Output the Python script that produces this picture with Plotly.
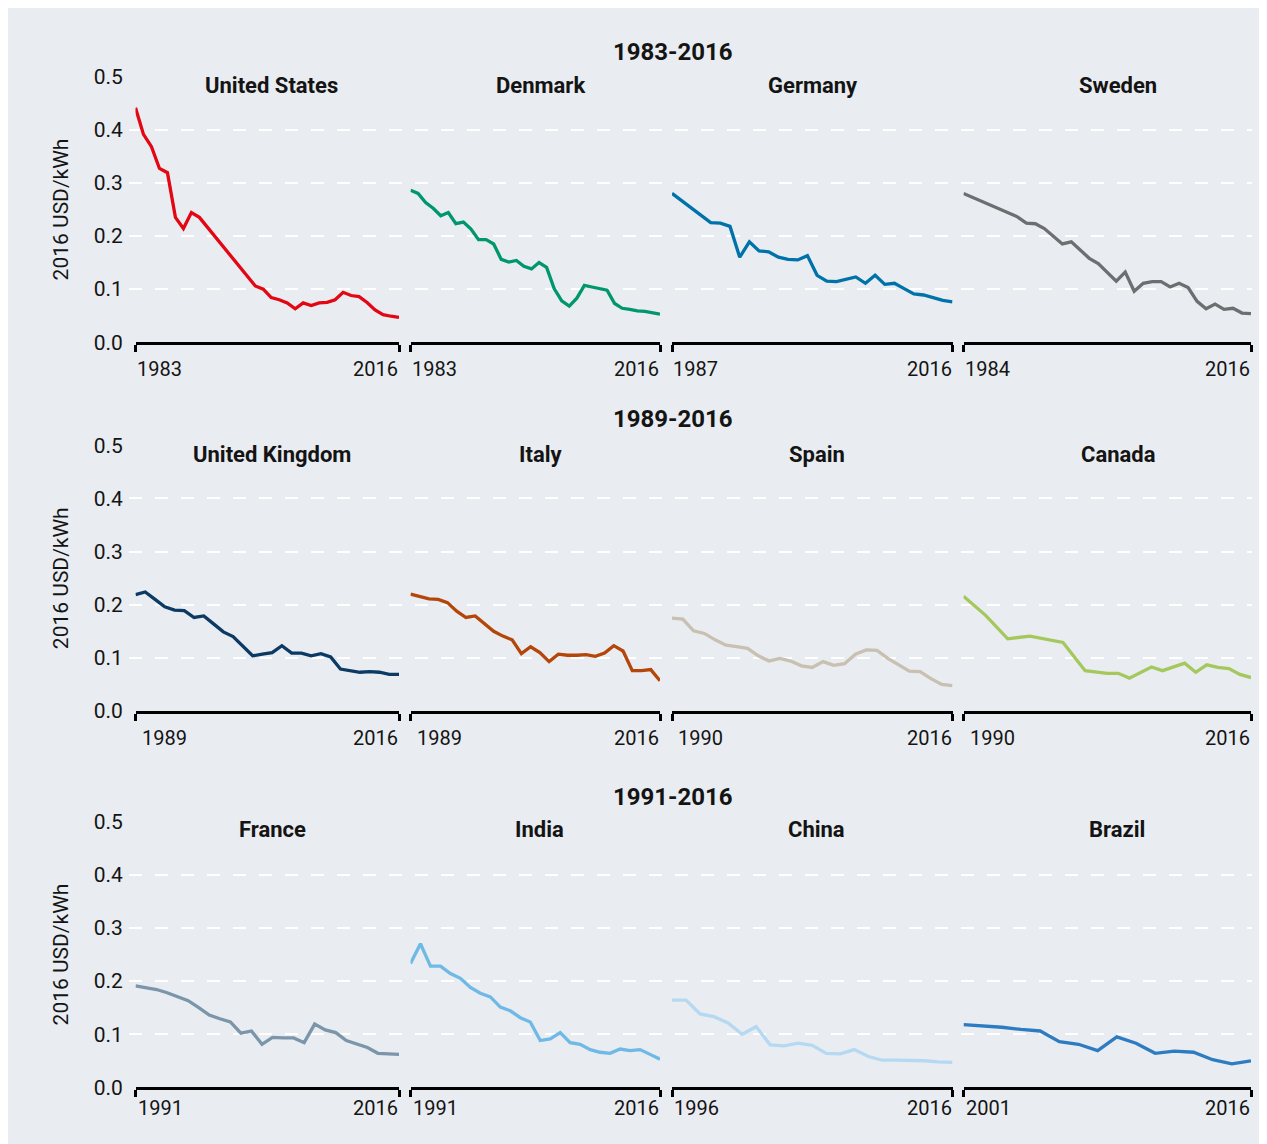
import plotly.graph_objects as go

# ---------------- data ----------------
row_titles = ["1983-2016", "1989-2016", "1991-2016"]
panel_titles = [
    ["United States", "Denmark", "Germany", "Sweden"],
    ["United Kingdom", "Italy", "Spain", "Canada"],
    ["France", "India", "China", "Brazil"],
]
y_ticks = [0.0, 0.1, 0.2, 0.3, 0.4, 0.5]
y_ticktext = ["0.0", "0.1", "0.2", "0.3", "0.4", "0.5"]
y_title = "2016 USD/kWh"

us_years = [1983, 1984, 1985, 1986, 1987, 1988, 1989, 1990, 1991, 1998, 1999, 2000,
            2001, 2002, 2003, 2004, 2005, 2006, 2007, 2008, 2009, 2010, 2011, 2012,
            2013, 2014, 2015, 2016]
us_vals = [0.441, 0.391, 0.368, 0.327, 0.319, 0.235, 0.214, 0.244, 0.235, 0.106, 0.100, 0.084,
           0.080, 0.074, 0.063, 0.074, 0.069, 0.074, 0.075, 0.080, 0.094, 0.088, 0.086, 0.075,
           0.061, 0.052, 0.049, 0.047]

dk_years = list(range(1983, 2017))
dk_vals = [0.286, 0.280, 0.263, 0.252, 0.238, 0.244, 0.223, 0.226, 0.213, 0.193, 0.193, 0.185,
           0.156, 0.151, 0.154, 0.143, 0.138, 0.150, 0.141, 0.101, 0.078, 0.068, 0.083, 0.107,
           0.104, 0.101, 0.098, 0.073, 0.064, 0.062, 0.059, 0.058, 0.056, 0.053]

de_years = [1987, 1991, 1992, 1993, 1994, 1995, 1996, 1997, 1998, 1999, 2000, 2001, 2002,
            2003, 2004, 2005, 2006, 2007, 2008, 2009, 2010, 2011, 2012, 2013, 2014, 2015, 2016]
de_vals = [0.280, 0.225, 0.224, 0.218, 0.160, 0.189, 0.172, 0.170, 0.160, 0.156, 0.155, 0.163,
           0.126, 0.115, 0.114, 0.119, 0.123, 0.111, 0.126, 0.109, 0.111, 0.101, 0.091, 0.089,
           0.084, 0.079, 0.076]

se_years = [1984, 1990, 1991, 1992, 1993, 1994, 1995, 1996, 1997, 1998, 1999, 2000, 2001,
            2002, 2003, 2004, 2005, 2006, 2007, 2008, 2009, 2010, 2011, 2012, 2013, 2014,
            2015, 2016]
se_vals = [0.280, 0.236, 0.224, 0.223, 0.214, 0.199, 0.185, 0.189, 0.173, 0.158, 0.148, 0.132,
           0.115, 0.132, 0.096, 0.111, 0.114, 0.114, 0.104, 0.111, 0.103, 0.077, 0.063, 0.072,
           0.062, 0.064, 0.055, 0.054]

uk_years = list(range(1989, 2017))
uk_vals = [0.219, 0.224, 0.210, 0.196, 0.190, 0.189, 0.176, 0.179, 0.164, 0.149, 0.140, 0.121,
           0.104, 0.107, 0.110, 0.123, 0.109, 0.109, 0.104, 0.108, 0.102, 0.079, 0.076, 0.073,
           0.074, 0.073, 0.069, 0.069]

it_years = list(range(1989, 2017))
it_vals = [0.220, 0.216, 0.211, 0.210, 0.204, 0.188, 0.176, 0.179, 0.165, 0.150, 0.141, 0.134,
           0.108, 0.121, 0.110, 0.093, 0.107, 0.105, 0.105, 0.106, 0.103, 0.109, 0.123, 0.113,
           0.076, 0.076, 0.078, 0.057]

es_years = list(range(1990, 2017))
es_vals = [0.175, 0.173, 0.151, 0.146, 0.134, 0.124, 0.121, 0.118, 0.104, 0.094, 0.099, 0.094,
           0.085, 0.082, 0.093, 0.086, 0.089, 0.107, 0.115, 0.114, 0.099, 0.087, 0.075, 0.074,
           0.061, 0.050, 0.048]

ca_years = [1990, 1992, 1994, 1996, 1999, 2001, 2003, 2004, 2005, 2007, 2008, 2010, 2011,
            2012, 2013, 2014, 2015, 2016]
ca_vals = [0.216, 0.180, 0.136, 0.141, 0.129, 0.076, 0.071, 0.071, 0.062, 0.083, 0.076, 0.090,
           0.073, 0.087, 0.082, 0.080, 0.069, 0.063]

fr_years = list(range(1991, 2017))
fr_vals = [0.191, 0.188, 0.184, 0.178, 0.171, 0.163, 0.150, 0.136, 0.129, 0.123, 0.102, 0.106,
           0.081, 0.094, 0.093, 0.093, 0.084, 0.119, 0.108, 0.103, 0.088, 0.081, 0.075, 0.064,
           0.063, 0.062]

in_years = list(range(1991, 2017))
in_vals = [0.233, 0.270, 0.228, 0.228, 0.214, 0.205, 0.188, 0.177, 0.170, 0.151, 0.144, 0.131,
           0.123, 0.088, 0.091, 0.103, 0.084, 0.081, 0.071, 0.066, 0.064, 0.072, 0.069, 0.071,
           0.062, 0.053]

cn_years = list(range(1996, 2017))
cn_vals = [0.164, 0.164, 0.138, 0.133, 0.121, 0.100, 0.114, 0.080, 0.078, 0.083, 0.079, 0.064,
           0.063, 0.071, 0.058, 0.051, 0.051, 0.051, 0.050, 0.048, 0.047]

br_years = list(range(2001, 2017))
br_vals = [0.118, 0.116, 0.113, 0.109, 0.106, 0.086, 0.081, 0.069, 0.095, 0.083, 0.064, 0.068,
           0.066, 0.052, 0.044, 0.050]

series_years = [[us_years, dk_years, de_years, se_years],
                [uk_years, it_years, es_years, ca_years],
                [fr_years, in_years, cn_years, br_years]]
series_vals = [[us_vals, dk_vals, de_vals, se_vals],
               [uk_vals, it_vals, es_vals, ca_vals],
               [fr_vals, in_vals, cn_vals, br_vals]]
colors = [["#e30613", "#00966e", "#0072aa", "#6d6e70"],
          ["#0c3a63", "#b4460a", "#c8c0b1", "#a4c85c"],
          ["#7b95aa", "#6fb9e6", "#b5d9f2", "#2d7cc1"]]

# ---------------- geometry (target picture pixels) ----------------
# calibration of where the page puts the figure in the picture
OX = 8            # horizontal offset of the figure
TY, SY = 19.5, 0.9797   # vertical offset and scale of the figure in the picture
W, H = 1259, 1148


def fx(px):
    return (px - OX) / W


def fy(py):
    return 1 - ((py - TY) / SY) / H


BG = "#e9ecf1"
TXT = "#141414"
FONT = "Roboto"

ROW_Y = [(76, 342), (445, 711), (821.5, 1087.5)]          # (top=0.5, bottom=0.0)
COL_X = [(135.5, 399), (410.5, 660), (672, 952.5), (963.5, 1251)]
GRID_X = (129, 1252)
ROW_TITLE_Y = [52, 419, 797]
PANEL_TITLE_Y = [85, 454, 830]
PANEL_TITLE_X = [[271, 540, 813, 1118], [272, 540, 817, 1118], [272, 539, 816, 1117]]
TICKLABEL_Y = [368.5, 738, 1108.5]
LEFT_SHIFT = [0, 5, 1]

fig = go.Figure()
layout = {}
annotations = []

for r in range(3):
    top, bot = ROW_Y[r]
    ydom = [fy(bot), fy(top)]
    bgi = r * 5 + 1
    sx = "" if bgi == 1 else str(bgi)
    layout["xaxis" + sx] = dict(domain=[fx(GRID_X[0]), fx(GRID_X[1])], range=[0, 1],
                                visible=False, anchor="y" + sx, fixedrange=True)
    layout["yaxis" + sx] = dict(domain=ydom, range=[0, 0.5], anchor="x" + sx,
                                tickvals=y_ticks, ticktext=y_ticktext,
                                showgrid=True, gridcolor="white", gridwidth=1.5,
                                griddash="13px,13px", zeroline=False, showline=False,
                                ticks="outside", ticklen=1, tickcolor="rgba(0,0,0,0)",
                                tickfont=dict(family=FONT, size=21, color=TXT),
                                fixedrange=True)
    fig.add_trace(go.Scatter(x=[], y=[], xaxis="x" + sx, yaxis="y" + sx,
                             showlegend=False, hoverinfo="skip"))
    annotations.append(dict(text=y_title, textangle=-90, xref="paper", yref="paper",
                            x=fx(61), y=fy((top + bot) / 2), showarrow=False,
                            xanchor="center", yanchor="middle",
                            font=dict(family=FONT, size=21, color=TXT)))
    annotations.append(dict(text="<b>" + row_titles[r] + "</b>", xref="paper", yref="paper",
                            x=fx(673), y=fy(ROW_TITLE_Y[r]), showarrow=False,
                            xanchor="center", yanchor="middle",
                            font=dict(family=FONT, size=24, color=TXT)))
    for c in range(4):
        i = r * 5 + 2 + c
        s = str(i)
        yrs = series_years[r][c]
        vals = series_vals[r][c]
        x0, x1 = COL_X[c]
        layout["xaxis" + s] = dict(domain=[fx(x0), fx(x1)], range=[yrs[0], yrs[-1]],
                                   anchor="y" + s, showline=True, linecolor="black",
                                   linewidth=3, ticks="outside", tickvals=[yrs[0], yrs[-1]],
                                   ticklen=7, tickwidth=2.5, tickcolor="black",
                                   showticklabels=False, showgrid=False, zeroline=False,
                                   fixedrange=True)
        layout["yaxis" + s] = dict(domain=ydom, range=[0, 0.5], anchor="x" + s,
                                   visible=False, fixedrange=True)
        fig.add_trace(go.Scatter(x=yrs, y=vals, mode="lines", xaxis="x" + s, yaxis="y" + s,
                                 line=dict(color=colors[r][c], width=3.3),
                                 name=panel_titles[r][c], showlegend=False))
        annotations.append(dict(text="<b>" + panel_titles[r][c] + "</b>", xref="paper",
                                yref="paper", x=fx(PANEL_TITLE_X[r][c]),
                                y=fy(PANEL_TITLE_Y[r]), showarrow=False,
                                xanchor="center", yanchor="middle",
                                font=dict(family=FONT, size=22, color=TXT)))
        annotations.append(dict(text=str(yrs[0]), xref="x" + s, yref="paper", x=yrs[0],
                                y=fy(TICKLABEL_Y[r]), showarrow=False, xanchor="left",
                                yanchor="middle", xshift=LEFT_SHIFT[r] - 1,
                                font=dict(family=FONT, size=20, color=TXT)))
        annotations.append(dict(text=str(yrs[-1]), xref="x" + s, yref="paper", x=yrs[-1],
                                y=fy(TICKLABEL_Y[r]), showarrow=False, xanchor="right",
                                yanchor="middle", xshift=1,
                                font=dict(family=FONT, size=20, color=TXT)))

layout.update(
    width=W, height=H, autosize=False,
    margin=dict(l=0, r=0, t=0, b=0, pad=0),
    paper_bgcolor=BG, plot_bgcolor="rgba(0,0,0,0)",
    showlegend=False,
    font=dict(family=FONT, color=TXT),
    annotations=annotations,
)
fig.update_layout(layout)
fig.write_html("out.html")
